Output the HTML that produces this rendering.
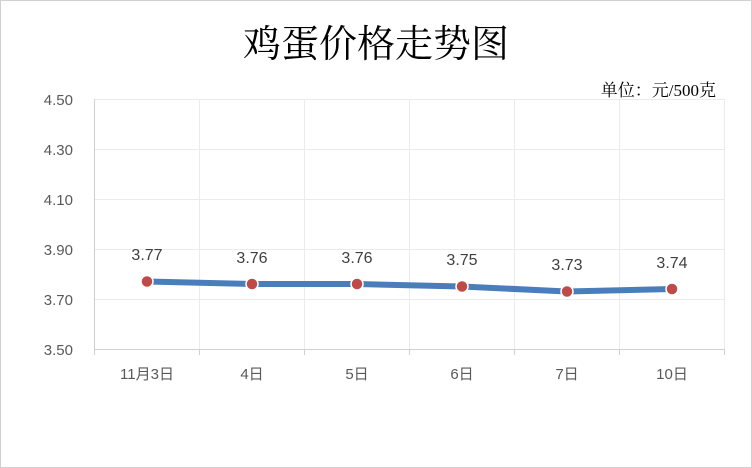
<!DOCTYPE html>
<html><head><meta charset="utf-8"><style>
html,body{margin:0;padding:0;background:#fff}
svg{display:block}
</style></head><body>
<svg width="752" height="468" xmlns="http://www.w3.org/2000/svg" font-family="Liberation Sans, Noto Sans CJK SC, sans-serif">
<rect x="0.5" y="0.5" width="751" height="467" fill="#fff" stroke="#d0d0d0"/>
<text x="376" y="57" text-anchor="middle" font-size="38" fill="#000" font-family="Noto Serif CJK SC, serif">鸡蛋价格走势图</text>
<text x="716" y="96" text-anchor="end" font-size="17" fill="#000" font-family="Liberation Serif, Noto Serif CJK SC, serif">单位：元/500克</text>
<g stroke="#ebebeb" stroke-width="1">
<line x1="95" y1="99.5" x2="724" y2="99.5"/><line x1="95" y1="149.5" x2="724" y2="149.5"/>
<line x1="95" y1="199.5" x2="724" y2="199.5"/><line x1="95" y1="249.5" x2="724" y2="249.5"/>
<line x1="95" y1="299.5" x2="724" y2="299.5"/>
<line x1="199.5" y1="99" x2="199.5" y2="349"/><line x1="304.5" y1="99" x2="304.5" y2="349"/>
<line x1="409.5" y1="99" x2="409.5" y2="349"/><line x1="514.5" y1="99" x2="514.5" y2="349"/>
<line x1="619.5" y1="99" x2="619.5" y2="349"/><line x1="724.5" y1="99" x2="724.5" y2="349"/>
</g>
<g stroke="#d0d0d0" stroke-width="1">
<line x1="94.5" y1="99" x2="94.5" y2="355"/>
<line x1="94" y1="349.5" x2="724" y2="349.5"/>
<line x1="199.5" y1="349" x2="199.5" y2="355"/><line x1="304.5" y1="349" x2="304.5" y2="355"/>
<line x1="409.5" y1="349" x2="409.5" y2="355"/><line x1="514.5" y1="349" x2="514.5" y2="355"/>
<line x1="619.5" y1="349" x2="619.5" y2="355"/><line x1="724.5" y1="349" x2="724.5" y2="355"/>
</g>
<g font-size="15" fill="#595959" text-anchor="end">
<text x="73" y="105">4.50</text><text x="73" y="155">4.30</text><text x="73" y="205">4.10</text>
<text x="73" y="255">3.90</text><text x="73" y="305">3.70</text><text x="73" y="355">3.50</text>
</g>
<g font-size="15" fill="#595959" text-anchor="middle">
<text x="147" y="379">11月3日</text><text x="252" y="379">4日</text><text x="357" y="379">5日</text>
<text x="462" y="379">6日</text><text x="567" y="379">7日</text><text x="672" y="379">10日</text>
</g>
<polyline points="147,281.5 252,284 357,284 462,286.5 567,291.5 672,289" fill="none" stroke="#4a7ebb" stroke-width="6" stroke-linejoin="round"/>
<g fill="#be4b48" stroke="#fff" stroke-width="1.5">
<circle cx="147" cy="281.5" r="6"/><circle cx="252" cy="284" r="6"/><circle cx="357" cy="284" r="6"/>
<circle cx="462" cy="286.5" r="6"/><circle cx="567" cy="291.5" r="6"/><circle cx="672" cy="289" r="6"/>
</g>
<g font-size="16" fill="#404040" text-anchor="middle">
<text x="147" y="260">3.77</text><text x="252" y="263">3.76</text><text x="357" y="263">3.76</text>
<text x="462" y="265">3.75</text><text x="567" y="270">3.73</text><text x="672" y="268">3.74</text>
</g>
</svg>
</body></html>
